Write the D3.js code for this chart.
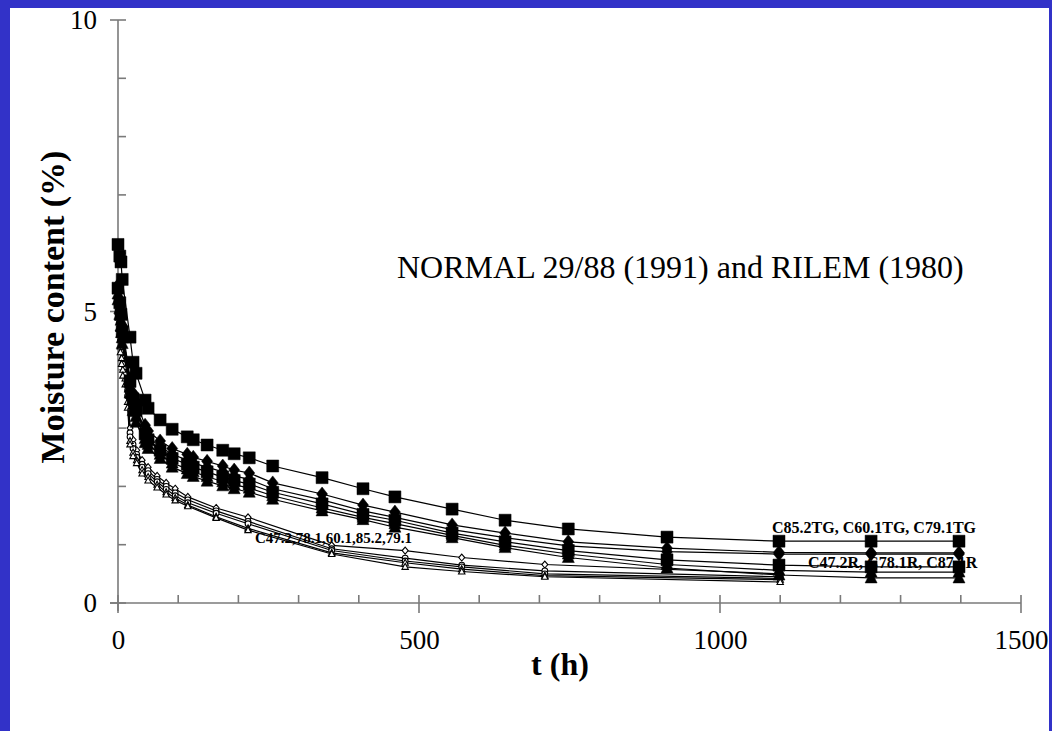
<!DOCTYPE html>
<html><head><meta charset="utf-8">
<script src="https://cdn.jsdelivr.net/npm/d3@7"></script>
<style>body{margin:0;background:#3232C8;}svg{display:block;}</style>
</head><body>
<svg id="c" width="1052" height="731"></svg>
<script>
// ---- data ----
const timesFilled = [0, 3, 5, 7, 20, 25, 30, 45, 50, 70, 90, 115, 125, 148, 174, 193, 218, 257, 339, 407, 460, 555, 643, 748, 912, 1098, 1251, 1397];
const tg1 = [6.15, 5.95, 5.85, 5.55, 4.56, 4.13, 3.94, 3.48, 3.34, 3.14, 2.98, 2.85, 2.80, 2.71, 2.62, 2.56, 2.49, 2.35, 2.15, 1.96, 1.82, 1.61, 1.42, 1.27, 1.13, 1.06, 1.06, 1.06];
const tg2 = [5.45, 5.2, 5.0, 4.75, 3.85, 3.6, 3.45, 3.05, 2.95, 2.78, 2.65, 2.55, 2.50, 2.43, 2.35, 2.28, 2.23, 2.06, 1.87, 1.68, 1.56, 1.34, 1.20, 1.05, 0.94, 0.87, 0.86, 0.86];
const tg3 = [5.35, 5.1, 4.9, 4.6, 3.75, 3.5, 3.35, 2.95, 2.85, 2.68, 2.55, 2.45, 2.40, 2.33, 2.25, 2.18, 2.12, 1.96, 1.77, 1.58, 1.47, 1.26, 1.12, 0.98, 0.88, 0.84, 0.84, 0.84];
const r1 = [5.4, 5.15, 4.95, 4.65, 3.8, 3.5, 3.3, 2.9, 2.8, 2.62, 2.48, 2.38, 2.33, 2.25, 2.16, 2.10, 2.04, 1.90, 1.70, 1.52, 1.42, 1.20, 1.05, 0.90, 0.74, 0.65, 0.62, 0.62];
const r2 = [5.3, 5.05, 4.85, 4.55, 3.7, 3.4, 3.2, 2.82, 2.72, 2.55, 2.40, 2.30, 2.25, 2.17, 2.08, 2.03, 1.97, 1.84, 1.63, 1.47, 1.36, 1.16, 0.99, 0.84, 0.66, 0.56, 0.53, 0.53];
const r3 = [5.2, 4.95, 4.75, 4.45, 3.6, 3.3, 3.1, 2.75, 2.65, 2.48, 2.33, 2.22, 2.17, 2.09, 2.01, 1.96, 1.90, 1.78, 1.58, 1.43, 1.30, 1.12, 0.95, 0.78, 0.60, 0.48, 0.43, 0.43];

const timesOpen = [0, 2, 4, 6, 8, 12, 16, 20, 25, 31, 40, 50, 65, 80, 95, 116, 163, 216, 355, 477, 571, 709, 1100];
const o1 = [5.3, 5.0, 4.7, 4.5, 4.3, 4.17, 3.79, 3.0, 2.8, 2.62, 2.45, 2.33, 2.18, 2.06, 1.96, 1.82, 1.63, 1.47, 0.99, 0.90, 0.78, 0.66, 0.50];
const o2 = [5.2, 4.9, 4.6, 4.4, 4.2, 4.05, 3.65, 2.92, 2.72, 2.55, 2.38, 2.27, 2.12, 2.0, 1.89, 1.77, 1.58, 1.40, 0.93, 0.77, 0.65, 0.55, 0.45];
const o3 = [5.1, 4.8, 4.5, 4.3, 4.1, 3.95, 3.55, 2.85, 2.65, 2.5, 2.33, 2.22, 2.08, 1.95, 1.84, 1.72, 1.54, 1.36, 0.90, 0.72, 0.62, 0.50, 0.42];
const o4 = [5.0, 4.7, 4.4, 4.2, 4.0, 3.85, 3.45, 2.78, 2.58, 2.45, 2.28, 2.16, 2.03, 1.9, 1.8, 1.68, 1.48, 1.28, 0.86, 0.69, 0.58, 0.47, 0.40];
const o5 = [4.9, 4.6, 4.3, 4.1, 3.9, 3.75, 3.35, 2.72, 2.52, 2.4, 2.22, 2.1, 1.98, 1.86, 1.76, 1.66, 1.46, 1.25, 0.84, 0.62, 0.54, 0.45, 0.36];

const xTickLabels = [0, 500, 1000, 1500];
const yTickLabels = [0, 5, 10];

const seriesOpen = [
  {name: "C47.2", times: timesOpen, values: o1, shape: "diamond"},
  {name: "C78.1", times: timesOpen, values: o2, shape: "circle"},
  {name: "C60.1", times: timesOpen, values: o3, shape: "circle"},
  {name: "C85.2", times: timesOpen, values: o4, shape: "triangle"},
  {name: "C79.1", times: timesOpen, values: o5, shape: "triangle"}
];
const seriesFilled = [
  {name: "C85.2TG", times: timesFilled, values: tg1, shape: "square"},
  {name: "C60.1TG", times: timesFilled, values: tg2, shape: "diamond"},
  {name: "C79.1TG", times: timesFilled, values: tg3, shape: "diamond"},
  {name: "C47.2R", times: timesFilled, values: r1, shape: "square"},
  {name: "C78.1R", times: timesFilled, values: r2, shape: "triangle"},
  {name: "C87.1R", times: timesFilled, values: r3, shape: "triangle"}
];

// ---- layout ----
const svg = d3.select("#c");
svg.append("rect").attr("x", 10).attr("y", 8).attr("width", 1039).attr("height", 723).attr("fill", "#fff");

const x = d3.scaleLinear().domain([0, 1500]).range([118, 1021]);
const y = d3.scaleLinear().domain([0, 10]).range([603, 20]);
const font = "'Liberation Serif','Times New Roman',serif";
const axisColor = "#7a7a7a";

// axes lines
const ax = svg.append("g").attr("stroke", axisColor).attr("stroke-width", 1.6);
ax.append("line").attr("x1", x(0) - 8).attr("x2", x(1500)).attr("y1", y(0)).attr("y2", y(0));
ax.append("line").attr("x1", x(0)).attr("x2", x(0)).attr("y1", y(0) + 8).attr("y2", y(10));
ax.selectAll(".xm").data(d3.range(0, 1501, 100)).enter().append("line")
  .attr("x1", d => x(d)).attr("x2", d => x(d))
  .attr("y1", d => y(0) - 8).attr("y2", d => d % 500 === 0 ? y(0) + 10 : y(0));
ax.selectAll(".ym").data(d3.range(0, 11, 1)).enter().append("line")
  .attr("y1", d => y(d)).attr("y2", d => y(d))
  .attr("x1", d => d % 5 === 0 ? x(0) - 8 : x(0)).attr("x2", x(0) + 8);

// tick labels via d3 axes (lines hidden)
const gx = svg.append("g").attr("transform", `translate(0,${y(0)})`)
  .call(d3.axisBottom(x).tickValues(xTickLabels).tickSize(0).tickPadding(27).tickFormat(d3.format("d")));
gx.select(".domain").remove();
gx.selectAll("text").attr("font-family", font).attr("font-size", 27).attr("fill", "#000");
const gy = svg.append("g").attr("transform", `translate(${x(0)},0)`)
  .call(d3.axisLeft(y).tickValues(yTickLabels).tickSize(0).tickPadding(21).tickFormat(d3.format("d")));
gy.select(".domain").remove();
gy.selectAll("text").attr("font-family", font).attr("font-size", 27).attr("fill", "#000");

// axis titles
svg.append("text").attr("x", 560).attr("y", 675).attr("text-anchor", "middle")
  .attr("font-family", font).attr("font-weight", "bold").attr("font-size", 32).text("t (h)");
svg.append("text").attr("transform", "translate(64,307) rotate(-90)").attr("text-anchor", "middle")
  .attr("font-family", font).attr("font-weight", "bold").attr("font-size", 34).text("Moisture content (%)");

// annotation texts
svg.append("text").attr("x", 397).attr("y", 278).attr("font-family", font).attr("font-size", 32)
  .text("NORMAL 29/88 (1991) and RILEM (1980)");
svg.append("text").attr("x", 772).attr("y", 533).attr("font-family", font).attr("font-weight", "bold").attr("font-size", 16)
  .text("C85.2TG, C60.1TG, C79.1TG");
svg.append("text").attr("x", 808).attr("y", 568).attr("font-family", font).attr("font-weight", "bold").attr("font-size", 16)
  .text("C47.2R, C78.1R, C87.1R");
svg.append("text").attr("x", 255).attr("y", 543).attr("font-family", font).attr("font-weight", "bold").attr("font-size", 15)
  .text("C47.2,78.1,60.1,85.2,79.1");

// series
const line = d3.line().x(d => x(d[0])).y(d => y(d[1]));
function marker(shape, big) {
  if (shape === "square") return big ? "M-6,-6H6V6H-6Z" : "M-3,-3H3V3H-3Z";
  if (shape === "diamond") return big ? "M0,-7L5.5,0L0,7L-5.5,0Z" : "M0,-3.5L3,0L0,3.5L-3,0Z";
  if (shape === "triangle") return big ? "M0,-7L6,5H-6Z" : "M0,-3.5L3.2,2.5H-3.2Z";
  return d3.symbol(d3.symbolCircle, big ? 110 : 26)();
}
function drawSeries(list, big) {
  list.forEach(s => {
    const pts = s.times.map((t, i) => [t, s.values[i]]);
    svg.append("path").attr("d", line(pts)).attr("fill", "none").attr("stroke", "#000").attr("stroke-width", 1.2);
  });
  list.forEach(s => {
    const pts = s.times.map((t, i) => [t, s.values[i]]);
    svg.append("g").selectAll("path").data(pts).enter().append("path")
      .attr("transform", d => `translate(${x(d[0])},${y(d[1])})`)
      .attr("d", marker(s.shape, big))
      .attr("fill", big ? "#000" : "#fff").attr("stroke", "#000").attr("stroke-width", big ? 0.5 : 1.1);
  });
}
drawSeries(seriesOpen, false);
drawSeries(seriesFilled, true);
</script>
</body></html>
